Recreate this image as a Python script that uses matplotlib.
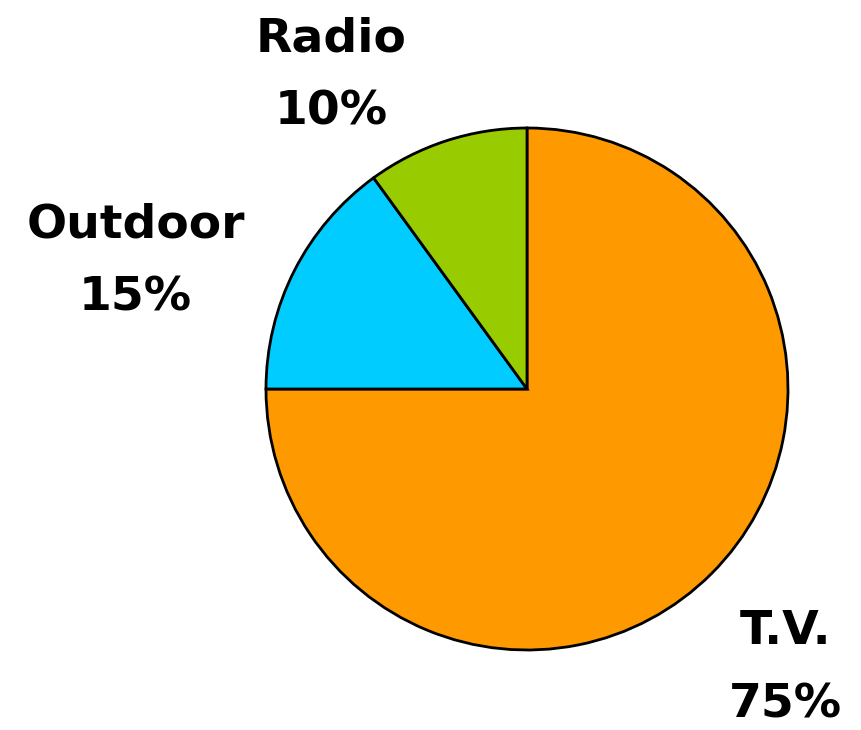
import matplotlib
matplotlib.use("Agg")
import matplotlib.pyplot as plt

labels = ["T.V.", "Outdoor", "Radio"]
shares = [75, 15, 10]
colors = ["#FF9900", "#00CCFF", "#99CC00"]

fig = plt.figure(figsize=(8.61, 7.3), dpi=100)
ax = fig.add_axes([0, 0, 1, 1])

ax.pie(
    shares,
    colors=colors,
    startangle=90,
    counterclock=False,
    radius=1.0,
    wedgeprops=dict(edgecolor="black", linewidth=2),
)

# label spots (data units, pie radius = 1)
label_pos = {"T.V.": (0.99, -1.07), "Outdoor": (-1.50, 0.49), "Radio": (-0.75, 1.20)}
for name, val in zip(labels, shares):
    x, y = label_pos[name]
    ax.text(x, y, f"{name}\n{val}%", ha="center", va="center",
            fontsize=34, fontweight="bold", linespacing=1.8)

ax.set_xlim(-527 / 261, (861 - 527) / 261)
ax.set_ylim(-341 / 261, 389 / 261)
ax.set_aspect("equal")
ax.axis("off")

fig.savefig("out.png", dpi=100)
plt.close(fig)
